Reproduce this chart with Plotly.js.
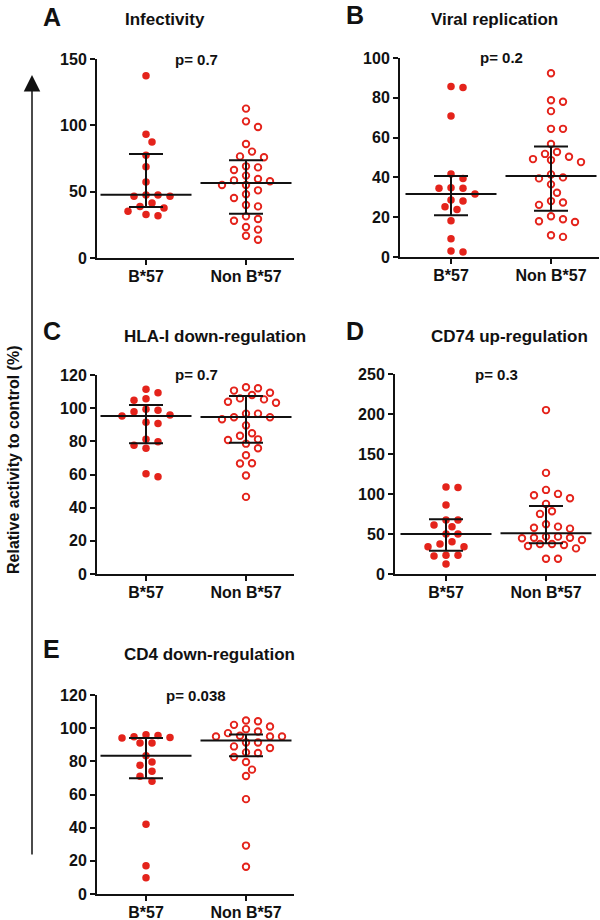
<!DOCTYPE html>
<html><head><meta charset="utf-8">
<script src="https://cdn.plot.ly/plotly-3.0.1.min.js"></script>
<style>html,body{margin:0;padding:0;background:#fff}#chart{width:600px;height:920px}</style>
</head><body><div id="chart"></div>
<script>
// ---------- data ----------
const categories = ['B*57', 'Non B*57'];
const panelLetters = ['A', 'B', 'C', 'D', 'E'];
const panelTitles = ['Infectivity', 'Viral replication', 'HLA-I down-regulation', 'CD74 up-regulation', 'CD4 down-regulation'];
const pValues = ['p= 0.7', 'p= 0.2', 'p= 0.7', 'p= 0.3', 'p= 0.038'];
const yAxisTitle = 'Relative activity to control (%)';

const ticksA = [0, 50, 100, 150];
const ticksB = [0, 20, 40, 60, 80, 100];
const ticksC = [0, 20, 40, 60, 80, 100, 120];
const ticksD = [0, 50, 100, 150, 200, 250];
const ticksE = [0, 20, 40, 60, 80, 100, 120];

// A: Infectivity
const infB57 = [137.4, 93.2, 87.4, 77.4, 68.8, 57.3, 47.5, 46.5, 46.5, 47.5, 38.9, 41.5, 35.2, 37.7, 31.9, 32.7];
const infNon = [112.6, 103.0, 98.7, 85.9, 80.2, 76.6, 75.9, 69.1, 68.3, 66.3, 62.1, 59.5, 57.8, 58.5, 55.0, 55.0, 51.0, 48.0, 45.2, 38.9, 39.9, 31.4, 28.1, 29.4, 21.4, 23.4, 16.8, 13.8];
const infB57Stats = [47.7, 38.5, 78.3];   // median, Q1, Q3
const infNonStats = [56.5, 33.4, 73.6];

// B: Viral replication
const repB57 = [85.7, 85.2, 70.9, 41.7, 39.5, 34.5, 34.8, 31.6, 34.5, 28.1, 28.6, 25.2, 23.9, 18.2, 9.2, 2.5, 3.0];
const repNon = [92.3, 78.0, 78.8, 73.3, 64.4, 64.4, 56.8, 51.8, 52.8, 49.2, 47.7, 48.7, 50.4, 41.5, 39.5, 40.0, 36.5, 32.3, 28.1, 26.2, 27.4, 20.5, 18.0, 17.6, 19.0, 10.1, 10.9];
const repB57Stats = [31.6, 21.0, 40.7];
const repNonStats = [40.7, 23.2, 55.5];

// C: HLA-I down-regulation
const hlaB57 = [111.4, 104.7, 105.7, 109.3, 98.7, 97.9, 99.3, 95.3, 95.9, 90.7, 91.5, 81.2, 79.8, 77.6, 75.8, 58.6, 60.4];
const hlaNon = [112.0, 112.6, 110.6, 107.9, 109.3, 105.3, 103.9, 103.3, 105.9, 96.7, 96.7, 94.5, 93.3, 94.5, 89.6, 84.9, 83.4, 81.2, 80.8, 78.6, 75.8, 71.6, 66.6, 66.8, 59.4, 46.5];
const hlaB57Stats = [95.3, 78.8, 101.9];
const hlaNonStats = [94.7, 79.2, 107.4];

// D: CD74 up-regulation
const cd74B57 = [108.9, 108.0, 86.3, 67.5, 67.5, 59.2, 61.3, 50.0, 50.0, 40.4, 37.5, 34.1, 34.1, 23.3, 22.4, 23.3, 12.4];
const cd74Non = [204.9, 126.4, 100.1, 94.7, 98.4, 105.1, 87.6, 78.4, 75.1, 59.2, 62.1, 56.7, 57.9, 46.7, 46.7, 42.5, 45.4, 44.6, 45.4, 37.5, 35.0, 37.5, 36.2, 32.0, 19.1, 19.1];
const cd74B57Stats = [50.0, 29.1, 68.4];
const cd74NonStats = [50.8, 38.3, 85.1];

// E: CD4 down-regulation
const cd4B57 = [95.6, 94.4, 91.0, 94.8, 91.0, 96.0, 94.0, 83.4, 79.6, 77.6, 74.0, 71.0, 68.0, 42.0, 17.0, 9.8];
const cd4Non = [104.6, 104.2, 102.0, 101.0, 99.4, 97.0, 98.0, 95.4, 95.0, 95.0, 95.0, 91.4, 91.4, 89.0, 88.0, 85.0, 85.4, 82.6, 79.6, 75.0, 71.2, 57.2, 29.2, 16.4];
const cd4B57Stats = [83.4, 69.8, 94.0];
const cd4NonStats = [92.6, 83.0, 96.2];

// ---------- layout config (positions in px) ----------
const W = 600, H = 920;
const panels = [
  {xd: [97, 294],  yd: [59, 258],  xr: [-0.49, 1.48], yr: [0, 150], ticks: ticksA, g1: infB57, g2: infNon, s1: infB57Stats, s2: infNonStats},
  {xd: [400, 599], yd: [58, 257],  xr: [-0.51, 1.48], yr: [0, 100], ticks: ticksB, g1: repB57, g2: repNon, s1: repB57Stats, s2: repNonStats},
  {xd: [97, 294],  yd: [375, 574], xr: [-0.49, 1.48], yr: [0, 120], ticks: ticksC, g1: hlaB57, g2: hlaNon, s1: hlaB57Stats, s2: hlaNonStats},
  {xd: [395, 596], yd: [374, 574], xr: [-0.51, 1.50], yr: [0, 250], ticks: ticksD, g1: cd74B57, g2: cd74Non, s1: cd74B57Stats, s2: cd74NonStats},
  {xd: [97, 294],  yd: [695, 894], xr: [-0.49, 1.48], yr: [0, 120], ticks: ticksE, g1: cd4B57, g2: cd4Non, s1: cd4B57Stats, s2: cd4NonStats}
];
const letterPos = [[52, 17], [355, 15], [52, 331], [355, 331], [51, 649]];
const titlePos = [[123, 20], [429, 20], [122, 336], [429, 336], [122, 654]];

const RED = '#e4231b';
const FONT = 'Liberation Sans, Arial, Helvetica, sans-serif';

// simple beeswarm: offsets in px
function swarm(vals, pxPerY, step, diam) {
  const order = vals.map((v, i) => i).sort((a, b) => vals[b] - vals[a]);
  const placed = [];
  const off = new Array(vals.length).fill(0);
  order.forEach((i) => {
    const y = vals[i] * pxPerY;
    for (let k = 0; k < 60; k++) {
      const m = Math.ceil(k / 2);
      const sgn = (k % 2 === 1) ? 1 : -1;
      const cand = k === 0 ? 0 : sgn * m * step;
      if (placed.every(p => Math.hypot(p.x - cand, p.y - y) >= diam)) {
        off[i] = cand; placed.push({x: cand, y: y}); break;
      }
    }
  });
  return off;
}

const traces = [];
const layout = {
  width: W, height: H, margin: {l: 0, r: 0, t: 0, b: 0},
  paper_bgcolor: '#fff', plot_bgcolor: 'rgba(0,0,0,0)',
  showlegend: false, font: {family: FONT, color: '#111'},
  annotations: [], shapes: []
};

panels.forEach((p, i) => {
  const n = i === 0 ? '' : String(i + 1);
  const xa = 'x' + n, ya = 'y' + n;
  const pxPerX = (p.xd[1] - p.xd[0]) / (p.xr[1] - p.xr[0]);
  const pxPerY = (p.yd[1] - p.yd[0]) / (p.yr[1] - p.yr[0]);
  layout['xaxis' + n] = {
    domain: [p.xd[0] / W, p.xd[1] / W], range: p.xr, anchor: ya,
    showline: true, linecolor: '#111', linewidth: 2, mirror: false,
    ticks: 'outside', ticklen: 5, tickwidth: 2, tickcolor: '#111', ticklabelstandoff: -2,
    tickvals: [0, 1], ticktext: categories, showgrid: false, zeroline: false,
    tickfont: {family: FONT, size: 16, weight: 'bold', color: '#111'}, fixedrange: true
  };
  layout['yaxis' + n] = {
    domain: [1 - p.yd[1] / H, 1 - p.yd[0] / H], range: p.yr, anchor: xa,
    showline: true, linecolor: '#111', linewidth: 2,
    ticks: 'outside', ticklen: 5, tickwidth: 2, tickcolor: '#111',
    tickvals: p.ticks, showgrid: false, zeroline: false,
    tickfont: {family: FONT, size: 16, weight: 'bold', color: '#111'}, fixedrange: true
  };
  [p.g1, p.g2].forEach((vals, gi) => {
    const off = swarm(vals, pxPerY, 6, 8.5);
    traces.push({
      type: 'scatter', mode: 'markers', xaxis: xa, yaxis: ya, cliponaxis: false,
      x: vals.map((v, j) => gi + off[j] / pxPerX), y: vals,
      marker: gi === 0
        ? {symbol: 'circle', size: 7.5, color: RED, line: {width: 0}}
        : {symbol: 'circle-open', size: 6.5, color: RED, line: {width: 1.9, color: RED}},
      hoverinfo: 'skip'
    });
  });
  const stats = [p.s1, p.s2];
  traces.push({
    type: 'scatter', mode: 'markers', xaxis: xa, yaxis: ya, cliponaxis: false,
    x: [0, 1], y: stats.map(s => s[0]),
    marker: {symbol: 'line-ew', size: 65, color: '#111', line: {width: 2, color: '#111'}},
    error_y: {type: 'data', symmetric: false, array: stats.map(s => s[2] - s[0]),
              arrayminus: stats.map(s => s[0] - s[1]), width: 17, thickness: 2, color: '#111'},
    hoverinfo: 'skip'
  });
  layout.annotations.push({xref: xa, yref: ya, x: 0.5, y: p.yr[1], text: pValues[i], showarrow: false,
    xanchor: 'center', yanchor: 'middle', font: {family: FONT, size: 15, weight: 'bold', color: '#111'}});
  layout.annotations.push({xref: 'paper', yref: 'paper', x: letterPos[i][0] / W, y: 1 - letterPos[i][1] / H,
    text: panelLetters[i], showarrow: false, xanchor: 'center', yanchor: 'middle',
    font: {family: FONT, size: 25, weight: 'bold', color: '#111'}});
  layout.annotations.push({xref: 'paper', yref: 'paper', x: titlePos[i][0] / W, y: 1 - titlePos[i][1] / H,
    text: panelTitles[i], showarrow: false, xanchor: 'left', yanchor: 'middle',
    font: {family: FONT, size: 17, weight: 'bold', color: '#111'}});
});

layout.annotations.push({xref: 'paper', yref: 'paper', x: 13 / W, y: 1 - 460 / H, text: yAxisTitle,
  textangle: -90, showarrow: false, xanchor: 'center', yanchor: 'middle',
  font: {family: FONT, size: 16, weight: 'bold', color: '#111'}});
layout.annotations.push({xref: 'paper', yref: 'paper', x: 32 / W, y: 1 - 75 / H, text: '',
  showarrow: true, axref: 'pixel', ayref: 'pixel', ax: 0, ay: 856 - 75,
  arrowhead: 2, arrowsize: 2.2, arrowwidth: 1.5, arrowcolor: '#111', standoff: 0, startstandoff: 0});

Plotly.newPlot('chart', traces, layout, {staticPlot: true, displayModeBar: false});
</script>
</body></html>
